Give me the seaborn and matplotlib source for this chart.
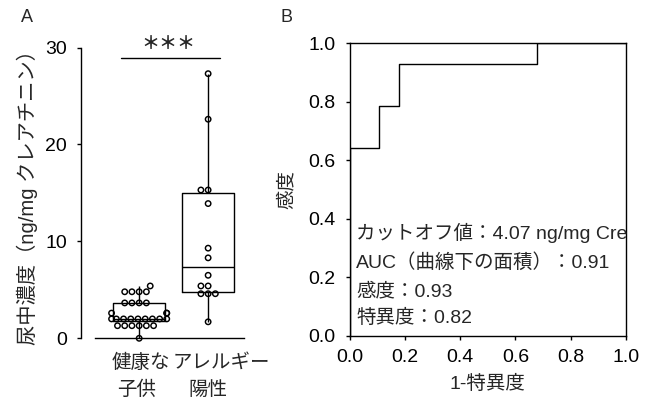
import numpy as np
import pandas as pd
import seaborn as sns
import matplotlib.pyplot as plt
from matplotlib.ticker import FormatStrFormatter

sns.set_style("ticks")
plt.rcParams['font.family'] = ['Liberation Sans', 'Noto Sans CJK JP']
plt.rcParams['axes.linewidth'] = 1.0
plt.rcParams['axes.edgecolor'] = 'black'
plt.rcParams['xtick.color'] = 'black'
plt.rcParams['ytick.color'] = 'black'

# A: 尿中濃度 (ng/mg Cre)
groups = ["健康な子供", "アレルギー陽性"]
healthy = [0.0, 1.3, 1.3, 1.3, 1.3, 1.3, 1.3,
           2.0, 2.0, 2.0, 2.0, 2.0, 2.0, 2.0, 2.0, 2.0,
           2.6, 2.6, 2.6, 3.65, 3.65, 3.65, 3.65,
           4.8, 4.8, 4.8, 4.8, 5.4]
allergy = [1.7, 4.6, 4.6, 4.6, 5.4, 5.4, 6.5, 8.3, 9.3, 13.9, 15.3, 15.3, 22.6, 27.3]
tick_line1 = ["健康な", "アレルギー"]
tick_line2 = ["子供", "陽性"]
yticks_a = [0, 10, 20, 30]

# B: ROC
fpr = [0.0, 0.0, 0.107, 0.107, 0.179, 0.179, 0.679, 0.679, 1.0]
tpr = [0.0, 0.643, 0.643, 0.786, 0.786, 0.929, 0.929, 1.0, 1.0]
roc_text = ["カットオフ値：4.07 ng/mg Cre",
            "AUC（曲線下の面積）：0.91",
            "感度：0.93",
            "特異度：0.82"]
ticks_b = [0.0, 0.2, 0.4, 0.6, 0.8, 1.0]

df = pd.DataFrame({
    'group': [groups[0]] * len(healthy) + [groups[1]] * len(allergy),
    'value': healthy + allergy,
})

W, H = 649, 408
fig = plt.figure(figsize=(W / 100, H / 100), dpi=100)

# ---- panel A
axA = fig.add_axes([95 / W, 69.7 / H, 149 / W, 290.8 / H])
sns.boxplot(data=df, x='group', y='value', order=groups, ax=axA,
            width=0.75, fill=False, color='black', linewidth=1,
            whis=(0, 100), showcaps=False, showfliers=False)
sns.swarmplot(data=df, x='group', y='value', order=groups, ax=axA,
              size=3.9, color='white', edgecolor='black', linewidth=1.05)
for coll in axA.collections:
    coll.set_facecolor('none')
    coll.set_edgecolor('black')
    coll.set_clip_on(False)
    coll.set_zorder(3)

axA.set_xlim(-0.64, 1.52)
axA.set_ylim(0, 30)
axA.set_yticks(yticks_a)
axA.tick_params(axis='y', direction='out', length=3, width=1, labelsize=14, pad=7)
axA.tick_params(axis='x', length=0, labelbottom=False)
axA.spines['top'].set_visible(False)
axA.spines['right'].set_visible(False)
axA.spines['left'].set_position(('outward', 10))
axA.set_xlabel('')
axA.set_ylabel('尿中濃度（ng/mg クレアチニン）', fontsize=14.6)
axA.yaxis.set_label_coords(-0.38, 0.5)

trans = axA.get_xaxis_transform()
nudge1 = [0.02, 0.19]
nudge2 = [-0.04, 0.0]
for i in range(len(groups)):
    axA.text(i + nudge1[i], -0.086, tick_line1[i], transform=trans,
             ha='center', va='center', fontsize=14)
    axA.text(i + nudge2[i], -0.178, tick_line2[i], transform=trans,
             ha='center', va='center', fontsize=14)

# significance bracket
axA.plot([-0.27, 1.17], [28.9, 28.9], color='black', lw=1, clip_on=False)
axA.text(0.43, 30.35, '＊＊＊', ha='center', va='center', fontsize=13,
         fontweight='bold', clip_on=False)

# ---- panel B
axB = fig.add_axes([349.5 / W, 72.5 / H, 276.5 / W, 292.2 / H])
sns.lineplot(x=fpr, y=tpr, estimator=None, sort=False, color='black',
             linewidth=1, ax=axB)
axB.set_xlim(0, 1)
axB.set_ylim(0, 1)
axB.set_xticks(ticks_b)
axB.set_yticks(ticks_b)
axB.xaxis.set_major_formatter(FormatStrFormatter('%.1f'))
axB.yaxis.set_major_formatter(FormatStrFormatter('%.1f'))
axB.tick_params(direction='out', length=3, width=1, labelsize=14, pad=7)
axB.set_xlabel('1-特異度', fontsize=14)
axB.set_ylabel('感度', fontsize=14)
axB.xaxis.set_label_coords(0.5, -0.134)
axB.yaxis.set_label_coords(-0.195, 0.5)

text_y = [0.35, 0.249, 0.152, 0.059]
for t, y in zip(roc_text, text_y):
    axB.text(0.0235, y, t, transform=axB.transAxes, ha='left', va='center', fontsize=14)

fig.text(27 / W, 1 - 18 / H, 'A', ha='center', va='center', fontsize=13)
fig.text(287 / W, 1 - 18 / H, 'B', ha='center', va='center', fontsize=13)

fig.savefig('out.png', dpi=100)
